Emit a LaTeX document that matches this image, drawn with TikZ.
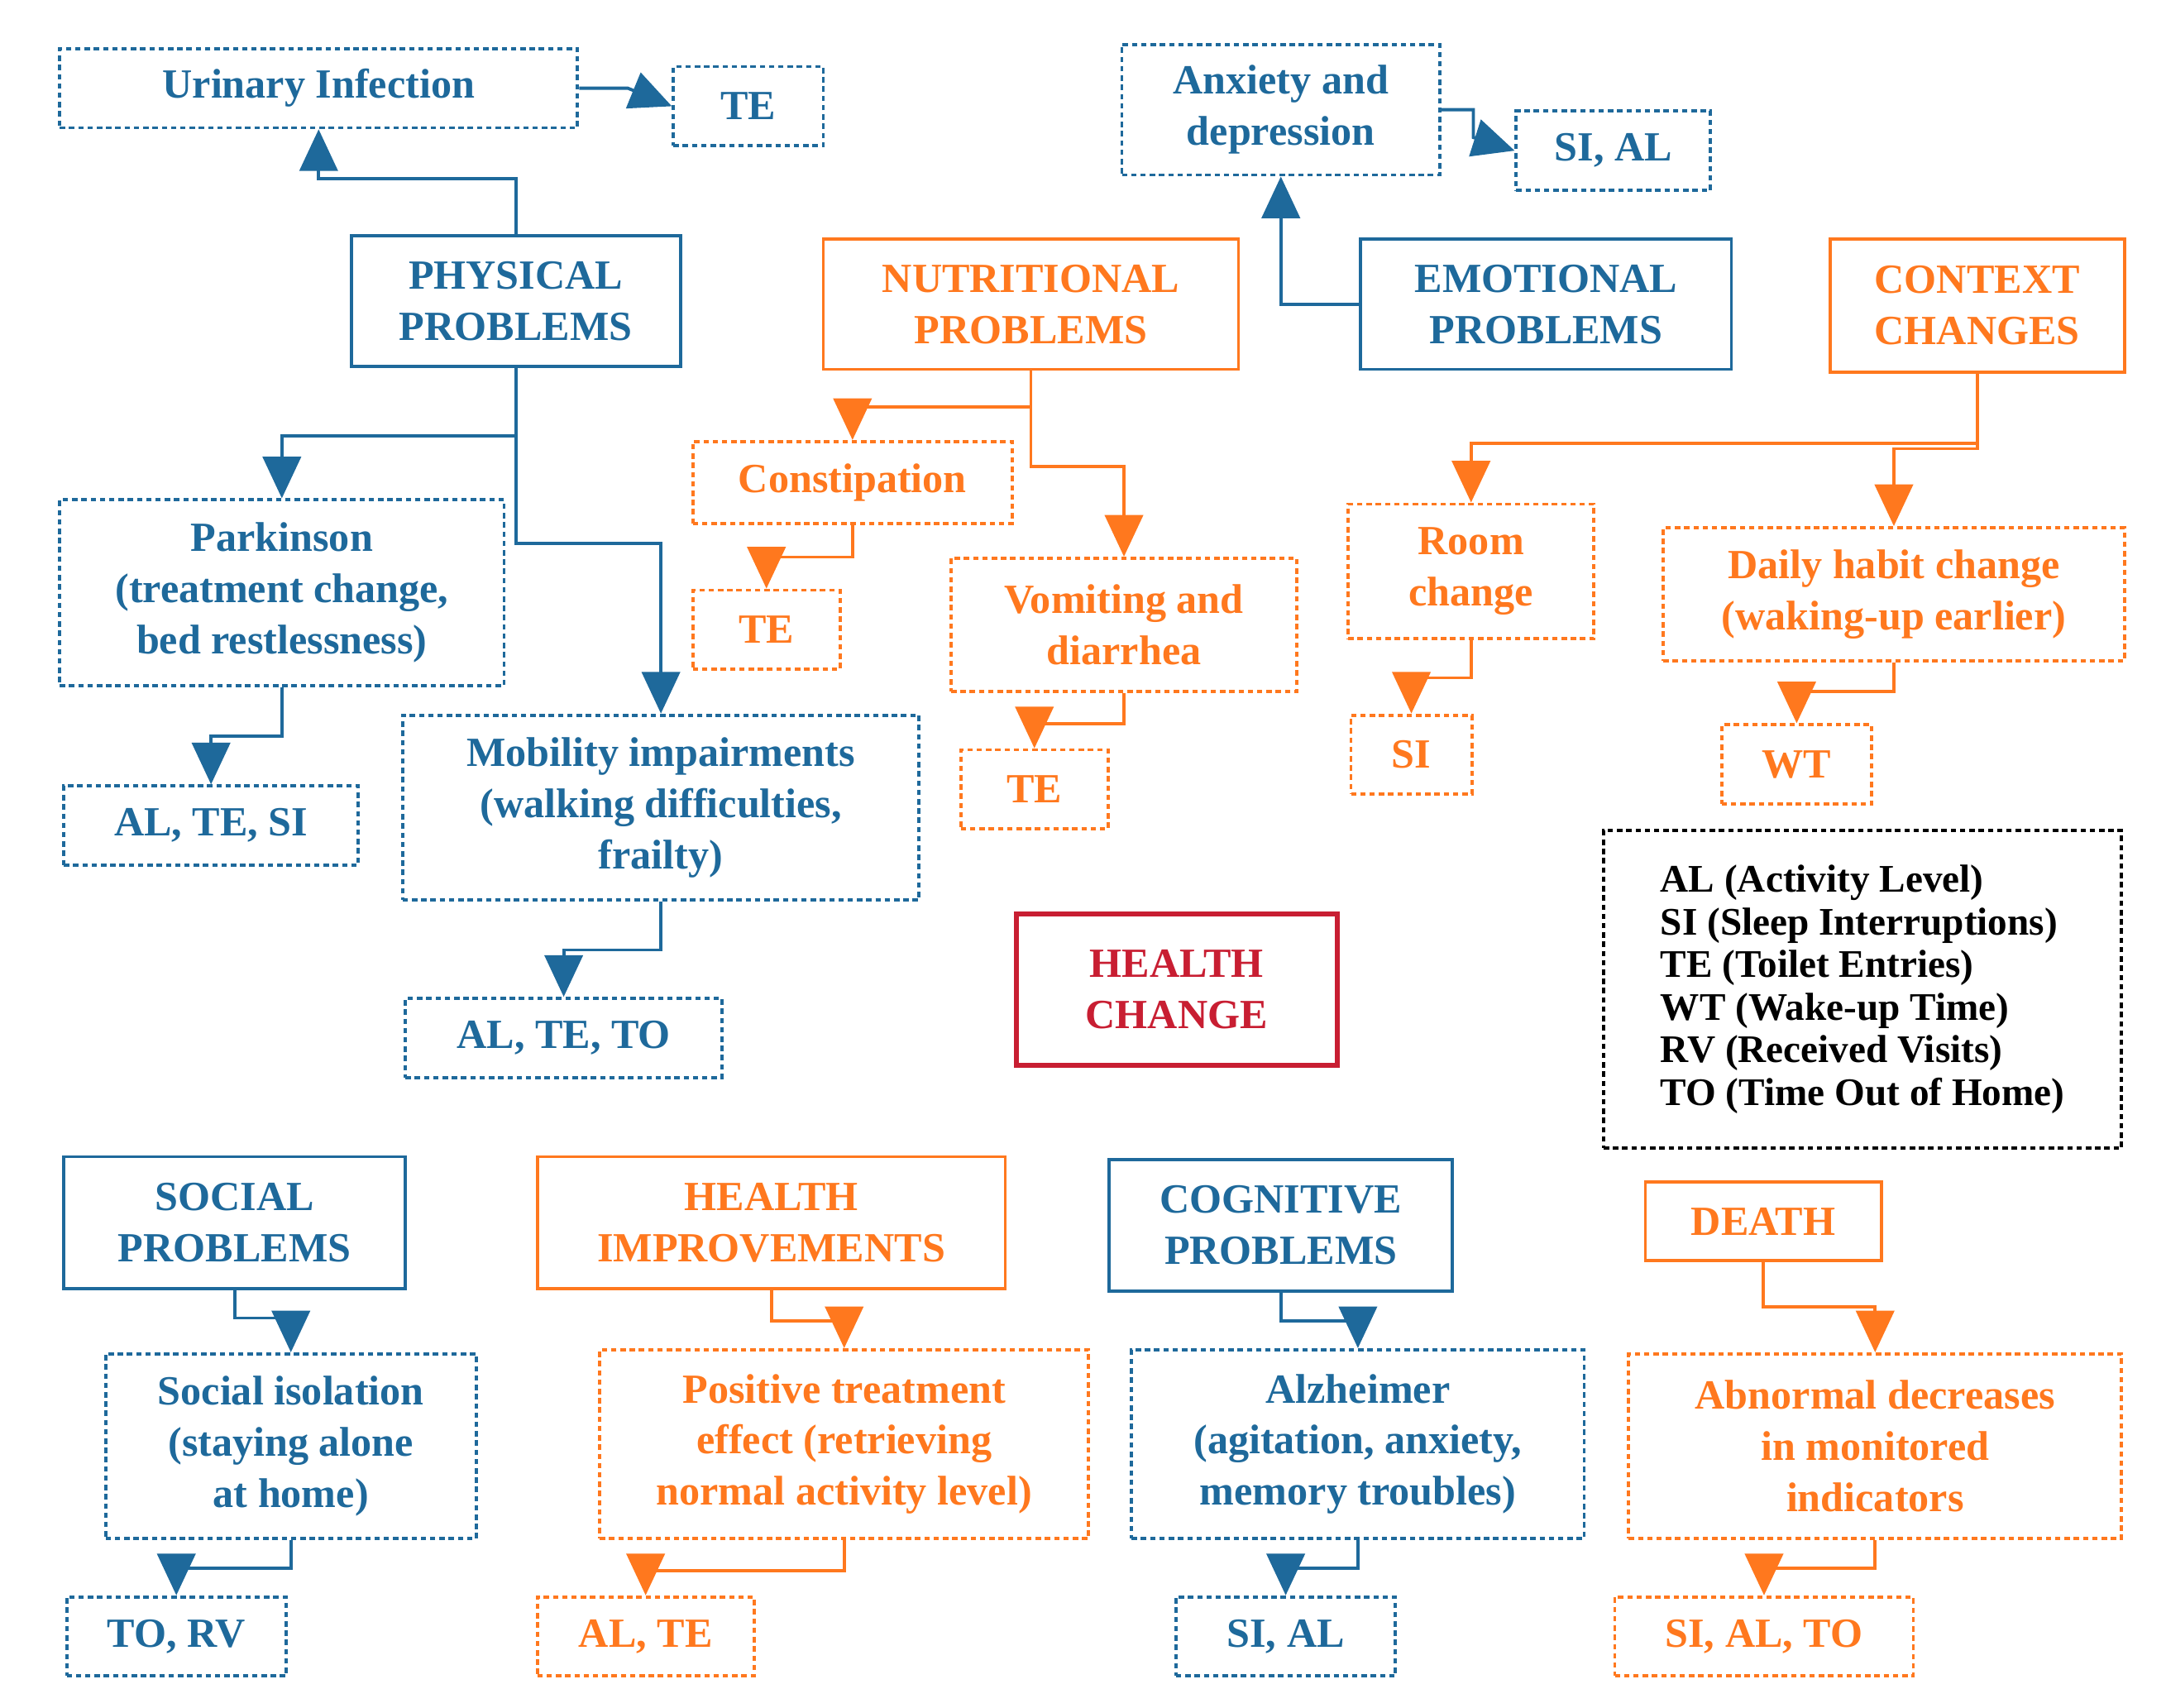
\documentclass[tikz,border=0pt]{standalone}
\usepackage{fontspec}
\setmainfont{Liberation Serif}
\usetikzlibrary{arrows.meta}
\definecolor{cb}{RGB}{30,105,155}
\definecolor{co}{RGB}{255,120,30}
\definecolor{cr}{RGB}{200,30,50}
\begin{document}
\begin{tikzpicture}[x=0.2mm,y=-0.2mm,
  bx/.style={draw,line width=1.3pt,align=center,inner sep=0pt,font=\fontsize{17}{21}\selectfont\bfseries},
  dsh/.style={dash pattern=on 2.2pt off 1.6pt},
  B/.style={bx,cb,text=cb},
  O/.style={bx,co,text=co},
  ar/.style={line width=1.3pt,-{Triangle[length=6mm,width=5.5mm]}},
  ab/.style={ar,cb},
  ao/.style={ar,co}]
\useasboundingbox (0,0) rectangle (1560,1230);
\node[B,dsh,minimum width=74.6mm,minimum height=11.4mm] (ui) at (229.5,63.5) {Urinary Infection};
\node[B,dsh,minimum width=21.6mm,minimum height=11.4mm] (te1) at (539,76.5) {TE};
\node[B,dsh,minimum width=45.8mm,minimum height=18.8mm] (anx) at (922.5,79) {Anxiety and\\depression};
\node[B,dsh,minimum width=28mm,minimum height=11.4mm] (sial1) at (1162,108.5) {SI, AL};
\node[B,minimum width=47.4mm,minimum height=18.8mm] (phys) at (371.5,217) {PHYSICAL\\PROBLEMS};
\node[O,minimum width=59.8mm,minimum height=18.8mm] (nut) at (742.5,219) {NUTRITIONAL\\PROBLEMS};
\node[B,minimum width=53.4mm,minimum height=18.8mm] (emo) at (1113.5,219) {EMOTIONAL\\PROBLEMS};
\node[O,minimum width=42.4mm,minimum height=19.2mm] (ctx) at (1424,220) {CONTEXT\\CHANGES};
\node[O,dsh,minimum width=46mm,minimum height=11.8mm] (cons) at (614,347.5) {Constipation};
\node[O,dsh,minimum width=21.2mm,minimum height=11.4mm] (te2) at (552,453.5) {TE};
\node[O,dsh,minimum width=49.8mm,minimum height=19.2mm] (vom) at (809.5,450) {Vomiting and\\diarrhea};
\node[O,dsh,minimum width=21.2mm,minimum height=11.4mm] (te3) at (745,568.5) {TE};
\node[O,dsh,minimum width=35.4mm,minimum height=19.4mm] (room) at (1059.5,411.5) {Room\\change};
\node[O,dsh,minimum width=17.4mm,minimum height=11.4mm] (si2) at (1016.5,543.5) {SI};
\node[O,dsh,minimum width=66.4mm,minimum height=19.2mm] (daily) at (1364,428) {Daily habit change\\(waking-up earlier)};
\node[O,dsh,minimum width=21.6mm,minimum height=11.4mm] (wt) at (1294,550.5) {WT};
\node[B,dsh,minimum width=64mm,minimum height=26.8mm] (park) at (203,427) {Parkinson\\(treatment change,\\bed restlessness)};
\node[B,dsh,minimum width=42.4mm,minimum height=11.4mm] (alts) at (152,594.5) {AL, TE, SI};
\node[B,dsh,minimum width=74.4mm,minimum height=26.6mm] (mob) at (476,581.5) {Mobility impairments\\(walking difficulties,\\frailty)};
\node[B,dsh,minimum width=45.6mm,minimum height=11.4mm] (alto) at (406,747.5) {AL, TE, TO};
\node[bx,cr,text=cr,line width=2pt,minimum width=46.2mm,minimum height=21.8mm] (hc) at (847.5,712.5) {HEALTH\\CHANGE};
\node[bx,black,dsh,align=left,minimum width=74.6mm,minimum height=45.8mm,font=\fontsize{16}{17.5}\selectfont\bfseries] (leg) at (1341.5,712.5) {AL (Activity Level)\\SI (Sleep Interruptions)\\TE (Toilet Entries)\\WT (Wake-up Time)\\RV (Received Visits)\\TO (Time Out of Home)};
\node[B,minimum width=49.2mm,minimum height=19mm] (soc) at (169,880.5) {SOCIAL\\PROBLEMS};
\node[B,dsh,minimum width=53.4mm,minimum height=26.6mm] (iso) at (209.5,1041.5) {Social isolation\\(staying alone\\at home)};
\node[B,dsh,minimum width=31.6mm,minimum height=11.4mm] (torv) at (127,1178.5) {TO, RV};
\node[O,minimum width=67.4mm,minimum height=19mm] (him) at (555.5,880.5) {HEALTH\\IMPROVEMENTS};
\node[O,dsh,minimum width=70.4mm,minimum height=27.2mm] (pos) at (608,1040) {Positive treatment\\effect (retrieving\\normal activity level)};
\node[O,dsh,minimum width=31.2mm,minimum height=11.4mm] (alte) at (465,1178.5) {AL, TE};
\node[B,minimum width=49.4mm,minimum height=19mm] (cog) at (922.5,882.5) {COGNITIVE\\PROBLEMS};
\node[B,dsh,minimum width=65.2mm,minimum height=27.2mm] (alz) at (978,1040) {Alzheimer\\(agitation, anxiety,\\memory troubles)};
\node[B,dsh,minimum width=31.6mm,minimum height=11.4mm] (sial3) at (926,1178.5) {SI, AL};
\node[O,minimum width=34mm,minimum height=11.4mm] (death) at (1270,879.5) {DEATH};
\node[O,dsh,minimum width=71mm,minimum height=26.6mm] (abn) at (1350.5,1041.5) {Abnormal decreases\\in monitored\\indicators};
\node[O,dsh,minimum width=43mm,minimum height=11.4mm] (salto) at (1270.5,1178.5) {SI, AL, TO};
% connectors
\draw[ab] (phys.north) -- ++(0,-40) -| (ui.south);
\draw[ab] (ui.east) -- ++(35,0) -- (te1.west);
\draw[ab] (emo.west) -| (anx.south);
\draw[ab] (anx.east) -- ++(23,0) -- ++(0,20) -- (sial1.west);
\draw[ab] (phys.south) -- ++(0,49) -| (park.north);
\draw[ab] (phys.south) -- ++(0,126) -| (mob.north);
\draw[ab] (park.south) -- ++(0,35) -| (alts.north);
\draw[ab] (mob.south) -- ++(0,35) -| (alto.north);
\draw[ao] (nut.south) -- ++(0,26) -| (cons.north);
\draw[ao] (nut.south) -- ++(0,69) -| (vom.north);
\draw[ao] (cons.south) -- ++(0,23) -| (te2.north);
\draw[ao] (vom.south) -- ++(0,22) -| (te3.north);
\draw[ao] (ctx.south) -- ++(0,50) -| (room.north);
\draw[ao] (ctx.south) -- ++(0,54) -| (daily.north);
\draw[ao] (room.south) -- ++(0,27) -| (si2.north);
\draw[ao] (daily.south) -- ++(0,21) -| (wt.north);
\draw[ab] (soc.south) -- ++(0,20) -| (iso.north);
\draw[ab] (iso.south) -- ++(0,20) -| (torv.north);
\draw[ao] (him.south) -- ++(0,22) -| (pos.north);
\draw[ao] (pos.south) -- ++(0,22) -| (alte.north);
\draw[ab] (cog.south) -- ++(0,20) -| (alz.north);
\draw[ab] (alz.south) -- ++(0,20) -| (sial3.north);
\draw[ao] (death.south) -- ++(0,32) -| (abn.north);
\draw[ao] (abn.south) -- ++(0,20) -| (salto.north);
\end{tikzpicture}
\end{document}
